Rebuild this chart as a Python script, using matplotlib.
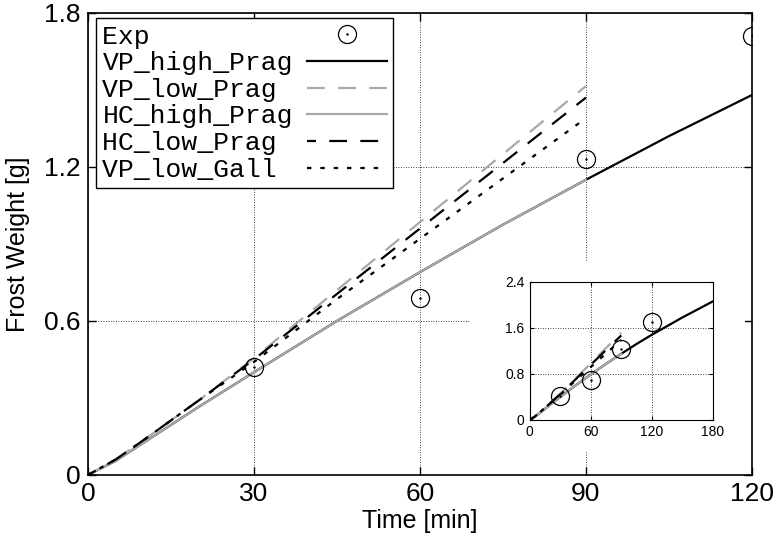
import matplotlib
matplotlib.use("Agg")
import matplotlib.pyplot as plt
from matplotlib.patches import Rectangle
from matplotlib.legend_handler import HandlerTuple

# experimental points
exp_t = [30, 60, 90, 120]
exp_w = [0.42, 0.69, 1.23, 1.71]

# model curves
vp_high_t = [0, 5, 10, 20, 30, 45, 60, 75, 90, 105, 120, 150, 180]
vp_high_w = [0, 0.055, 0.125, 0.265, 0.40, 0.60, 0.79, 0.975, 1.15, 1.32, 1.48, 1.78, 2.06]

hc_high_t = [0, 5, 10, 20, 30, 45, 60, 75, 90]
hc_high_w = [0, 0.055, 0.125, 0.265, 0.40, 0.60, 0.79, 0.975, 1.15]

vp_low_prag_t = [0, 5, 10, 20, 30, 45, 60, 75, 90]
vp_low_prag_w = [0, 0.06, 0.135, 0.29, 0.455, 0.72, 0.985, 1.25, 1.515]

hc_low_prag_t = [0, 5, 10, 20, 30, 45, 60, 75, 90]
hc_low_prag_w = [0, 0.06, 0.135, 0.29, 0.45, 0.705, 0.96, 1.215, 1.47]

vp_low_gall_t = [0, 5, 10, 20, 30, 45, 60, 75, 90]
vp_low_gall_w = [0, 0.06, 0.135, 0.29, 0.44, 0.685, 0.92, 1.155, 1.39]

plt.rcParams['font.family'] = ['Liberation Sans Narrow', 'Liberation Sans', 'DejaVu Sans']

GRAY = '#a8a8a8'
GRID = dict(color='black', linestyle=(0, (1, 2)), linewidth=0.6)


def draw_series(ax, ms):
    ax.plot(vp_high_t, vp_high_w, color='black', lw=1.6, label='VP_high_Prag')
    ax.plot(vp_low_prag_t, vp_low_prag_w, color=GRAY, lw=1.6,
            linestyle=(0, (8, 6)), label='VP_low_Prag')
    ax.plot(hc_high_t, hc_high_w, color=GRAY, lw=1.6, label='HC_high_Prag')
    ax.plot(hc_low_prag_t, hc_low_prag_w, color='black', lw=1.6,
            linestyle=(4, (8, 6)), label='HC_low_Prag')
    ax.plot(vp_low_gall_t, vp_low_gall_w, color='black', lw=1.6,
            linestyle=(0, (2, 4)), label='VP_low_Gall')
    circ, = ax.plot(exp_t, exp_w, 'o', mfc='none', mec='black', mew=0.9, ms=ms)
    dot, = ax.plot(exp_t, exp_w, '.', color='black', ms=1.5)
    return circ, dot


fig = plt.figure(figsize=(7.78, 5.37), dpi=100)
ax = fig.add_axes([0.113, 0.1155, 0.8535, 0.8605])

circ, dot = draw_series(ax, 13)
ax.set_xlim(0, 120)
ax.set_ylim(0, 1.8)
ax.set_xticks([0, 30, 60, 90, 120])
ax.set_yticks([0, 0.6, 1.2, 1.8])
ax.set_yticklabels(['0', '0.6', '1.2', '1.8'])
ax.tick_params(direction='in', length=6, width=1, top=True, right=True,
               labelsize=19, pad=5)
ax.grid(True, **GRID)
for s in ax.spines.values():
    s.set_linewidth(1.2)
ax.set_xlabel('Time [min]', fontsize=18, labelpad=2)
ax.set_ylabel('Frost Weight [g]', fontsize=18, labelpad=10)

# white area behind the inset
ax.add_patch(Rectangle((0.575, 0.05), 0.414, 0.41, transform=ax.transAxes,
                       facecolor='white', edgecolor='none', zorder=2.5))

handles, labels = ax.get_legend_handles_labels()
handles = [(circ, dot)] + handles
labels = ['Exp'] + labels
width = max(len(s) for s in labels)
labels = [s.ljust(width) for s in labels]
leg = ax.legend(handles, labels, loc='upper left', bbox_to_anchor=(0.012, 0.989),
                markerfirst=False, handlelength=3.0, handletextpad=0.55,
                labelspacing=0.1, borderpad=0.25, borderaxespad=0,
                fancybox=False, framealpha=1, edgecolor='black',
                prop={'family': 'Liberation Mono', 'size': 19},
                handler_map={tuple: HandlerTuple(ndivide=1)})
leg.get_frame().set_linewidth(1.0)
leg.set_zorder(5)

# inset
axi = fig.add_axes([0.681, 0.218, 0.235, 0.257])
draw_series(axi, 13)
axi.set_xlim(0, 180)
axi.set_ylim(0, 2.4)
axi.set_xticks([0, 60, 120, 180])
axi.set_yticks([0, 0.8, 1.6, 2.4])
axi.set_yticklabels(['0', '0.8', '1.6', '2.4'])
axi.tick_params(direction='in', length=3, top=True, right=True,
                labelsize=10, pad=4)
for lab in axi.get_xticklabels() + axi.get_yticklabels():
    lab.set_family('Liberation Sans')
axi.grid(True, **GRID)

fig.savefig('out.png', dpi=100)
